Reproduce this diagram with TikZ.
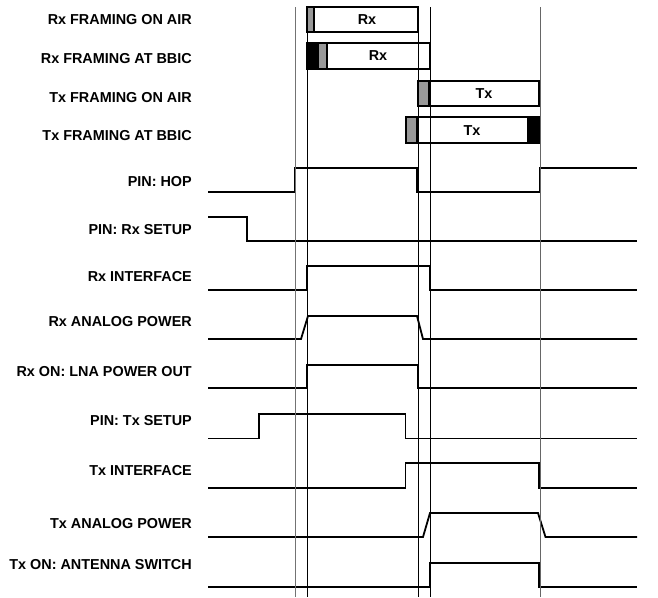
\documentclass[tikz,border=0pt]{standalone}
\usepackage{fontspec}
\setmainfont{Liberation Sans}
\begin{document}
\begin{tikzpicture}[
  x=1pt, y=-1pt,
  lbl/.style={anchor=east, inner sep=0pt, font=\bfseries\fontsize{14.4}{16}\selectfont},
  boxlbl/.style={inner sep=0pt, font=\bfseries\fontsize{14.4}{16}\selectfont},
  sig/.style={line width=1.8pt, line join=miter},
  frame/.style={line width=1.7pt},
  slot/.style={fill=black!40},
  marker/.style={line width=0.9pt}
]
\useasboundingbox (0,0) rectangle (658,597);

% signal names
\node[lbl] (rxair)   at (192,20)  {Rx FRAMING ON AIR};
\node[lbl] (rxbbic)  at (192,59)  {Rx FRAMING AT BBIC};
\node[lbl] (txair)   at (192,98)  {Tx FRAMING ON AIR};
\node[lbl] (txbbic)  at (192,136) {Tx FRAMING AT BBIC};
\node[lbl] (hop)     at (192,182) {PIN: HOP};
\node[lbl] (rxsetup) at (192,230) {PIN: Rx SETUP};
\node[lbl] (rxif)    at (192,277) {Rx INTERFACE};
\node[lbl] (rxpwr)   at (192,322) {Rx ANALOG POWER};
\node[lbl] (rxlna)   at (192,372) {Rx ON: LNA POWER OUT};
\node[lbl] (txsetup) at (192,421) {PIN: Tx SETUP};
\node[lbl] (txif)    at (192,471) {Tx INTERFACE};
\node[lbl] (txpwr)   at (192,524) {Tx ANALOG POWER};
\node[lbl] (txant)   at (192,565) {Tx ON: ANTENNA SWITCH};

% framing boxes
\fill[slot] (307,7) rectangle (314,32);
\draw[frame] (307,7) rectangle (418,32) (314,7) -- (314,32);
\node[boxlbl] (rxairbox) at (367,20) {Rx};

\fill (307,43) rectangle (319,69);
\fill[slot] (319,43) rectangle (327,69);
\draw[frame] (307,43) rectangle (430,69) (327,43) -- (327,69);
\node[boxlbl] (rxbbicbox) at (378,56) {Rx};

\fill[slot] (418,81) rectangle (429,106);
\draw[frame] (418,81) rectangle (539,106) (429,81) -- (429,106);
\node[boxlbl] (txairbox) at (484,94) {Tx};

\fill[slot] (406,117) rectangle (417,143);
\fill (527,117) rectangle (540,143);
\draw[frame] (406,117) rectangle (540,143) (417,117) -- (417,143);
\node[boxlbl] (txbbicbox) at (472,131) {Tx};

% waveforms
\draw[sig] (208,192) -- (295,192) -- (295,168) -- (417,168) -- (417,192)
  -- (540,192) -- (540,168) -- (637,168);
\draw[sig] (208,217) -- (247,217) -- (247,241) -- (637,241);
\draw[sig] (208,290) -- (307,290) -- (307,266) -- (430,266) -- (430,290) -- (637,290);
\draw[sig] (208,339) -- (301,339) -- (308,316) -- (417,316) -- (423,339) -- (637,339);
\draw[sig] (208,388) -- (307,388) -- (307,365) -- (418,365) -- (418,388) -- (637,388);
\draw[sig] (208,438.5) -- (259,438.5) -- (259,414) -- (405.5,414) -- (405.5,438.5)
  -- (637,438.5);
\draw[sig] (208,488) -- (405.5,488) -- (405.5,463) -- (539,463) -- (539,488) -- (637,488);
\draw[sig] (208,537) -- (423,537) -- (430,513) -- (538,513) -- (545.5,537) -- (637,537);
\draw[sig] (208,587) -- (430,587) -- (430,563) -- (539,563) -- (539,587) -- (637,587);

% timing markers
\foreach \t/\c in {295/black!55, 307/black, 418/black, 430/black, 540/black!60}
  \draw[marker, draw=\c] (\t,7) -- (\t,597);
\end{tikzpicture}
\end{document}
